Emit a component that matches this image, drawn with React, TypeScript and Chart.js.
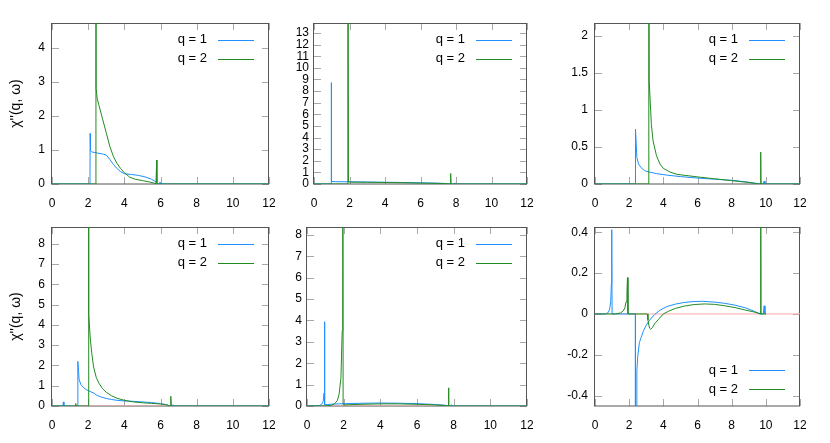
import React, { useEffect, useRef } from "react";
import { Chart, registerables } from "chart.js";
Chart.register(...registerables);

// ---------------- DATA ----------------
const seriesLabels = ["q = 1", "q = 2"];
const yTitle = "χ''(q, ω)";
const xTicks = [0, 2, 4, 6, 8, 10, 12];
const zeroX = [0, 12];
const zeroY = [0, 0];

// Panel 1 (top-left)
const p1q1x = [0, 2.10, 2.11, 2.13, 2.2, 2.5, 2.8, 3.0, 3.2, 3.4, 3.6, 3.8, 4.0, 4.4, 4.8, 5.2, 5.5, 5.7, 5.85, 5.93, 5.97, 6.02, 12];
const p1q1y = [0, 0, 1.48, 0.97, 0.94, 0.91, 0.88, 0.85, 0.72, 0.57, 0.45, 0.36, 0.30, 0.28, 0.25, 0.2, 0.14, 0.08, 0.01, 0, 0.06, 0, 0];
const p1q2x = [0, 2.42, 2.43, 2.44, 2.5, 2.6, 2.8, 3.0, 3.2, 3.4, 3.6, 3.8, 4.0, 4.3, 4.6, 5.0, 5.4, 5.75, 5.79, 5.8, 5.82, 12];
const p1q2y = [0, 0, 12, 2.8, 2.5, 2.3, 1.9, 1.5, 1.1, 0.8, 0.6, 0.45, 0.33, 0.2, 0.14, 0.1, 0.06, 0.01, 0.7, 0.02, 0, 0];
const p1yTicks = [0, 1, 2, 3, 4];
const p1yRange = [0, 4.72];

// Panel 2 (top-middle)
const p2q1x = [0, 0.96, 0.97, 0.99, 1.2, 2, 3, 4, 5, 6, 7, 7.6, 7.8, 7.9, 7.95, 8.0, 12];
const p2q1y = [0, 0, 8.73, 0.22, 0.2, 0.19, 0.17, 0.15, 0.13, 0.1, 0.07, 0.03, 0, 0, 0.1, 0, 0];
const p2q2x = [0, 1.9, 1.91, 1.94, 2.2, 3, 4, 5, 6, 7, 7.6, 7.68, 7.7, 7.72, 12];
const p2q2y = [0, 0, 30, 0.18, 0.16, 0.15, 0.13, 0.11, 0.08, 0.05, 0.01, 0, 0.9, 0, 0];
const p2yTicks = [0, 1, 2, 3, 4, 5, 6, 7, 8, 9, 10, 11, 12, 13];
const p2yRange = [0, 13.86];

// Panel 3 (top-right)
const p3q1x = [0, 2.36, 2.37, 2.45, 2.55, 2.7, 2.9, 3.2, 3.6, 4.2, 5, 6, 7, 8, 8.8, 9.4, 9.7, 9.85, 9.9, 9.95, 12];
const p3q1y = [0, 0, 0.74, 0.36, 0.27, 0.22, 0.18, 0.16, 0.14, 0.12, 0.1, 0.08, 0.065, 0.05, 0.03, 0.01, 0, 0, 0.04, 0, 0];
const p3q2x = [0, 3.14, 3.15, 3.17, 3.3, 3.4, 3.6, 3.8, 4.0, 4.4, 4.8, 5.5, 6.2, 7, 8, 9, 9.6, 9.68, 9.7, 9.72, 12];
const p3q2y = [0, 0, 6, 1.4, 0.8, 0.58, 0.38, 0.27, 0.21, 0.16, 0.13, 0.11, 0.09, 0.07, 0.045, 0.02, 0, 0, 0.43, 0, 0];
const p3yTicks = [0, 0.5, 1, 1.5, 2];
const p3yRange = [0, 2.17];

// Panel 4 (bottom-left)
const p4q1x = [0, 0.6, 0.63, 0.66, 1.42, 1.43, 1.5, 1.6, 1.75, 1.9, 2.1, 2.3, 2.5, 2.7, 3.0, 3.3, 3.6, 4.0, 4.5, 5.0, 5.5, 6.0, 6.3, 6.45, 6.6, 6.7, 6.75, 6.8, 12];
const p4q1y = [0, 0, 0.2, 0, 0, 2.2, 1.3, 1.05, 0.9, 0.8, 0.72, 0.64, 0.52, 0.45, 0.37, 0.32, 0.28, 0.25, 0.23, 0.2, 0.17, 0.12, 0.07, 0.02, 0, 0.05, 0.02, 0, 0];
const p4q2x = [0, 1.28, 1.31, 1.34, 2.01, 2.02, 2.04, 2.12, 2.2, 2.3, 2.45, 2.6, 2.8, 3.0, 3.3, 3.6, 4.0, 4.5, 5.0, 5.5, 6.0, 6.3, 6.55, 6.57, 6.6, 12];
const p4q2y = [0, 0, 0.12, 0, 0, 20, 4.5, 3.3, 2.6, 1.93, 1.4, 1.12, 0.85, 0.68, 0.5, 0.38, 0.28, 0.2, 0.16, 0.13, 0.1, 0.06, 0.01, 0.48, 0, 0];
const p4yTicks = [0, 1, 2, 3, 4, 5, 6, 7, 8];
const p4yRange = [0, 8.83];

// Panel 5 (bottom-middle)
const p5q1x = [0, 0.5, 0.7, 0.8, 0.88, 0.93, 0.95, 0.96, 0.98, 1.1, 1.5, 2, 3, 4, 5, 6, 7, 7.5, 7.8, 7.85, 7.9, 7.95, 12];
const p5q1y = [0, 0.01, 0.03, 0.08, 0.2, 0.6, 1.5, 3.94, 0.06, 0.07, 0.09, 0.11, 0.13, 0.14, 0.13, 0.11, 0.07, 0.04, 0, 0, 0.06, 0, 0];
const p5q2x = [0, 1.0, 1.3, 1.5, 1.65, 1.75, 1.85, 1.92, 1.95, 1.97, 2.0, 2.3, 3, 4, 5, 6, 7, 7.5, 7.7, 7.72, 7.74, 12];
const p5q2y = [0, 0.005, 0.03, 0.1, 0.25, 0.55, 1.3, 3.5, 30, 0.05, 0.05, 0.06, 0.08, 0.1, 0.1, 0.08, 0.05, 0.02, 0, 0.85, 0, 0];
const p5yTicks = [0, 1, 2, 3, 4, 5, 6, 7, 8];
const p5yRange = [0, 8.37];

// Panel 6 (bottom-right)
const p6q1x = [0, 0.6, 0.75, 0.85, 0.92, 0.96, 0.98, 1.0, 1.05, 2.36, 2.37, 2.4, 2.45, 2.5, 2.6, 2.7, 2.85, 3.0, 3.2, 3.5, 3.8, 4.2, 4.7, 5.2, 5.8, 6.3, 7.0, 7.6, 8.2, 8.8, 9.3, 9.65, 9.85, 9.9, 9.95, 10];
const p6q1y = [0, 0, 0.005, 0.02, 0.06, 0.15, 0.413, 0.0, 0, 0, -2, -0.45, -0.28, -0.21, -0.14, -0.115, -0.08, -0.055, -0.03, -0.002, 0.018, 0.036, 0.048, 0.056, 0.061, 0.062, 0.058, 0.052, 0.043, 0.03, 0.014, 0, 0, 0.04, 0, 0];
const p6q2x = [0, 1.2, 1.5, 1.65, 1.75, 1.82, 1.87, 1.9, 1.93, 1.96, 3.06, 3.1, 3.15, 3.2, 3.26, 3.35, 3.5, 3.7, 4.0, 4.3, 4.7, 5.2, 5.8, 6.4, 7.0, 7.6, 8.2, 8.8, 9.3, 9.6, 9.68, 9.7, 9.72, 10];
const p6q2y = [0, 0, 0.005, 0.015, 0.03, 0.06, 0.1, 0.178, 0, 0, 0, -0.03, -0.055, -0.07, -0.075, -0.068, -0.047, -0.028, 0, 0.013, 0.027, 0.038, 0.046, 0.049, 0.047, 0.04, 0.031, 0.019, 0.01, 0.003, 0, 0.8, 0, 0];
const p6yTicks = [-0.4, -0.2, 0, 0.2, 0.4];
const p6yRange = [-0.451, 0.426];

// ---------------- STYLE / LAYOUT ----------------
const BLUE = "#1e90ff";
const GREEN = "#228b22";
const PINK = "#ffa8a8";
const FONT = "'Liberation Sans', Arial, sans-serif";

type PanelCfg = {
  q1x: number[]; q1y: number[]; q2x: number[]; q2y: number[];
  yTicks: number[]; yRange: number[];
  zero: boolean; title: boolean; legend: "top" | "bottom";
  cl: number; ct: number; L: number; T: number; R: number; B: number; labPad: number;
};

const panels: PanelCfg[] = [
  { q1x: p1q1x, q1y: p1q1y, q2x: p1q2x, q2y: p1q2y, yTicks: p1yTicks, yRange: p1yRange, zero: false, title: true, legend: "top", cl: 0, ct: 0, L: 52, T: 23, R: 269, B: 184, labPad: 7 },
  { q1x: p2q1x, q1y: p2q1y, q2x: p2q2x, q2y: p2q2y, yTicks: p2yTicks, yRange: p2yRange, zero: false, title: false, legend: "top", cl: 270, ct: 0, L: 314, T: 23, R: 527, B: 184, labPad: 5 },
  { q1x: p3q1x, q1y: p3q1y, q2x: p3q2x, q2y: p3q2y, yTicks: p3yTicks, yRange: p3yRange, zero: false, title: false, legend: "top", cl: 550, ct: 0, L: 595, T: 23, R: 800, B: 184, labPad: 7 },
  { q1x: p4q1x, q1y: p4q1y, q2x: p4q2x, q2y: p4q2y, yTicks: p4yTicks, yRange: p4yRange, zero: true, title: true, legend: "top", cl: 0, ct: 215, L: 52, T: 227, R: 269, B: 406, labPad: 7 },
  { q1x: p5q1x, q1y: p5q1y, q2x: p5q2x, q2y: p5q2y, yTicks: p5yTicks, yRange: p5yRange, zero: true, title: false, legend: "top", cl: 265, ct: 215, L: 307, T: 227, R: 527, B: 406, labPad: 5 },
  { q1x: p6q1x, q1y: p6q1y, q2x: p6q2x, q2y: p6q2y, yTicks: p6yTicks, yRange: p6yRange, zero: true, title: false, legend: "bottom", cl: 550, ct: 215, L: 595, T: 227, R: 800, B: 406, labPad: 7 },
];

const pts = (xs: number[], ys: number[]) => xs.map((x, i) => ({ x, y: ys[i] }));

const framePlugin = {
  id: "frame",
  beforeDatasetsDraw(chart: any) {
    const { ctx, chartArea: a, scales } = chart;
    const sx = scales.x, sy = scales.y;
    ctx.save();
    ctx.lineWidth = 1;
    ctx.strokeStyle = "#a8a8a8";
    ctx.beginPath();
    for (const t of sx.ticks) {
      const px = Math.round(sx.getPixelForValue(t.value)) + 0.5;
      ctx.moveTo(px, a.bottom); ctx.lineTo(px, a.bottom - 7);
      ctx.moveTo(px, a.top); ctx.lineTo(px, a.top + 7);
    }
    for (const t of sy.ticks) {
      const py = Math.round(sy.getPixelForValue(t.value)) + 0.5;
      ctx.moveTo(a.left, py); ctx.lineTo(a.left + 7, py);
      ctx.moveTo(a.right, py); ctx.lineTo(a.right - 7, py);
    }
    ctx.stroke();
    ctx.strokeStyle = "#555555";
    ctx.strokeRect(Math.round(a.left) - 0.5, Math.round(a.top) + 0.5, Math.round(a.right - a.left), Math.round(a.bottom - a.top) - 0.5);
    ctx.restore();
  },
};

const legendPlugin = {
  id: "gnuLegend",
  afterDraw(chart: any, _args: any, opts: any) {
    const { ctx, chartArea: a } = chart;
    const items = chart.data.datasets.filter((d: any) => d.label);
    ctx.save();
    ctx.font = `13px ${FONT}`;
    ctx.textAlign = "right";
    ctx.textBaseline = "middle";
    items.forEach((d: any, i: number) => {
      const y = opts.pos === "top" ? a.top + 16.5 + i * 19 : a.bottom - 17 - (items.length - 1 - i) * 19;
      ctx.fillStyle = "#000";
      ctx.fillText(d.label, a.right - 62, y);
      ctx.strokeStyle = d.borderColor;
      ctx.lineWidth = 1;
      ctx.beginPath();
      ctx.moveTo(a.right - 51, Math.round(y) + 0.5);
      ctx.lineTo(a.right - 15, Math.round(y) + 0.5);
      ctx.stroke();
    });
    ctx.restore();
  },
};

function Panel({ cfg }: { cfg: PanelCfg }) {
  const ref = useRef<HTMLCanvasElement>(null);
  const cw = cfg.R + 12 - cfg.cl;
  const ch = cfg.B + 30 - cfg.ct;
  useEffect(() => {
    if (!ref.current) return;
    const datasets: any[] = [
      { label: seriesLabels[0], data: pts(cfg.q1x, cfg.q1y), borderColor: BLUE, borderWidth: 1, pointRadius: 0, tension: 0, order: 2 },
      { label: seriesLabels[1], data: pts(cfg.q2x, cfg.q2y), borderColor: GREEN, borderWidth: 1, pointRadius: 0, tension: 0, order: 1 },
    ];
    if (cfg.zero) {
      datasets.push({ label: "", data: pts(zeroX, zeroY), borderColor: PINK, borderWidth: 1, pointRadius: 0, order: 3 });
    }
    const chart = new Chart(ref.current, {
      type: "line",
      data: { datasets },
      plugins: [framePlugin, legendPlugin],
      options: {
        responsive: false,
        animation: false,
        events: [],
        layout: { padding: { left: 0, top: cfg.T - cfg.ct, right: cfg.cl + cw - cfg.R, bottom: 0 } },
        plugins: {
          legend: { display: false },
          tooltip: { enabled: false },
          gnuLegend: { pos: cfg.legend },
        } as any,
        scales: {
          x: {
            type: "linear",
            min: xTicks[0],
            max: xTicks[xTicks.length - 1],
            afterBuildTicks: (s: any) => { s.ticks = xTicks.map((v) => ({ value: v })); },
            afterFit: (s: any) => { s.height = cfg.ct + ch - cfg.B; },
            grid: { display: false, drawTicks: true, tickLength: 12 },
            border: { display: false },
            ticks: { autoSkip: false, maxRotation: 0, padding: 0, color: "#000", font: { size: 12, family: FONT }, callback: (v: any) => String(v) },
          },
          y: {
            type: "linear",
            min: cfg.yRange[0],
            max: cfg.yRange[1],
            afterBuildTicks: (s: any) => { s.ticks = cfg.yTicks.map((v) => ({ value: v })); },
            afterFit: (s: any) => { s.width = cfg.L - cfg.cl; },
            grid: { display: false, drawTicks: true, tickLength: cfg.labPad },
            border: { display: false },
            ticks: { autoSkip: false, padding: 0, color: "#000", font: { size: 12, family: FONT }, callback: (v: any) => String(v) },
            title: { display: cfg.title, text: yTitle, color: "#000", font: { size: 14, family: FONT }, padding: { top: 8, bottom: 0 } },
          },
        },
      } as any,
    });
    return () => chart.destroy();
  }, []);
  return (
    <canvas
      ref={ref}
      width={cw}
      height={ch}
      style={{ position: "absolute", left: cfg.cl, top: cfg.ct, width: cw, height: ch }}
    />
  );
}

export default function App() {
  return (
    <div style={{ position: "fixed", left: 0, top: 0, width: 830, height: 443, background: "#fff", overflow: "hidden" }}>
      {panels.map((p, i) => (
        <Panel key={i} cfg={p} />
      ))}
    </div>
  );
}
